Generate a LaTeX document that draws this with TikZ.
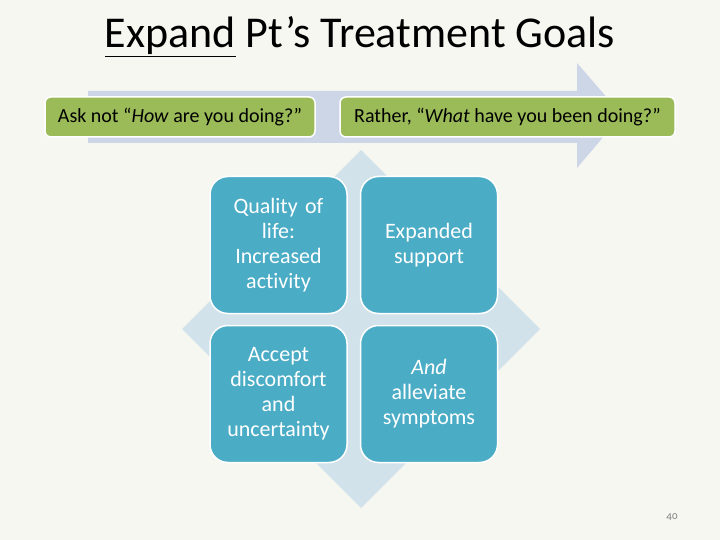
\documentclass[tikz,border=0pt]{standalone}
\usepackage{fontspec}
\setmainfont[Ligatures=NoCommon]{Carlito}
\usepackage{tikz}
\usetikzlibrary{positioning}

\definecolor{pagebg}{HTML}{F7F7F2}
\definecolor{arrowgray}{HTML}{CDD6E6}
\definecolor{diamondblue}{HTML}{D1E2EA}
\definecolor{goalgreen}{HTML}{9BBB59}
\definecolor{goalblue}{HTML}{4BACC6}

\begin{document}
\begin{tikzpicture}[
    x=1pt, y=-1pt,
    every node/.style={inner sep=0pt},
    question/.style={draw=white, line width=1.5pt, fill=goalgreen, rounded corners=6pt,
        minimum height=40pt, font=\fontsize{20}{22}\selectfont, text=black},
    goal/.style={draw=white, line width=1.5pt, fill=goalblue, rounded corners=18pt,
        minimum width=137pt, minimum height=137pt, text width=125pt, align=center,
        font=\fontsize{22}{25}\selectfont, text=white}
]

% Fondo
\fill[pagebg] (0,0) rectangle (720,540);

% Titulo
\node (title) at (360,37) {\fontsize{44}{48}\selectfont\underline{Expand} Pt’s Treatment Goals};

% Flecha y rombo de fondo
\fill[arrowgray] (88,91) -- (577,91) -- (577,63) -- (622,115) -- (577,168) -- (577,143) -- (88,143) -- cycle;
\fill[diamondblue] (361,150) -- (540,329) -- (361,508) -- (182,329) -- cycle;

% Preguntas
\node[question, minimum width=270pt] (ask) at (180,117) {Ask not “\textit{How} are you doing?”};
\node[question, minimum width=335pt] (rather) at (507.5,117) {Rather, “\textit{What} have you been doing?”};

% Metas
\node[goal] (quality) at (278.5,245) {Quality of\\life:\\Increased\\activity};
\node[goal] (support) at (429,245) {Expanded\\support};
\node[goal] (accept) at (278.5,394) {Accept\\discomfort\\and\\uncertainty};
\node[goal] (relieve) at (429,394) {\textit{And}\\alleviate\\symptoms};

% Numero de pagina
\node[text=gray, font=\fontsize{11}{12}\selectfont\addfontfeatures{Numbers=OldStyle}] (page) at (672,517) {40};

\end{tikzpicture}
\end{document}
